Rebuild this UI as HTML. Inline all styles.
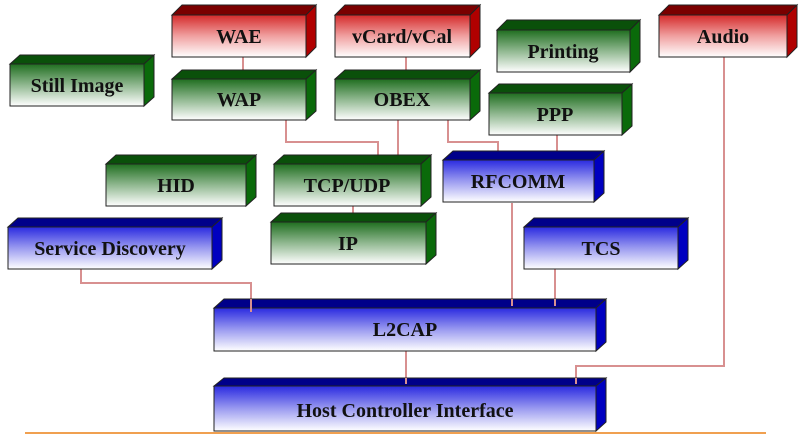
<!DOCTYPE html>
<html><head><meta charset="utf-8"><style>
html,body{margin:0;padding:0;background:#fff;}
svg{display:block;}
text{font-family:"Liberation Serif",serif;font-weight:bold;font-size:20px;fill:#111;text-anchor:middle;}
</style></head><body>
<svg width="800" height="435" viewBox="0 0 800 435" xmlns="http://www.w3.org/2000/svg">
<defs>
<linearGradient id="gr" x1="0" y1="0" x2="0" y2="1"><stop offset="0" stop-color="#d42a2a"/><stop offset="0.5" stop-color="#f0a0a0"/><stop offset="1" stop-color="#ffffff"/></linearGradient>
<linearGradient id="gg" x1="0" y1="0" x2="0" y2="1"><stop offset="0" stop-color="#1f6e1f"/><stop offset="0.5" stop-color="#90b890"/><stop offset="1" stop-color="#ffffff"/></linearGradient>
<linearGradient id="gb" x1="0" y1="0" x2="0" y2="1"><stop offset="0" stop-color="#2a2ae0"/><stop offset="0.5" stop-color="#9a9af0"/><stop offset="1" stop-color="#ffffff"/></linearGradient>
</defs>
<g stroke="#d89090" stroke-width="2" fill="none">
<polyline points="243,57 243,80"/>
<polyline points="406,57 406,80"/>
<polyline points="286,120 286,142 378,142 378,156"/>
<polyline points="398,120 398,156"/>
<polyline points="448,120 448,142 498,142 498,153"/>
<polyline points="557,135 557,153"/>
<polyline points="353,206 353,215"/>
<polyline points="512,203 512,302"/>
<polyline points="555,269 555,302"/>
<polyline points="81,269 81,283 251,283 251,312"/>
<polyline points="406,351 406,383"/>
<polyline points="724,57 724,366 576,366 576,383"/>
</g>
<line x1="25" y1="433" x2="766" y2="433" stroke="#f0a050" stroke-width="2"/>

<g stroke="#222" stroke-width="1">
<polygon points="172,15 182,5 316,5 306,15" fill="#7a0000"/><polygon points="306,15 316,5 316,47 306,57" fill="#b00000"/><rect x="172" y="15" width="134" height="42" fill="url(#gr)"/>
<polygon points="335,15 345,5 480,5 470,15" fill="#7a0000"/><polygon points="470,15 480,5 480,47 470,57" fill="#b00000"/><rect x="335" y="15" width="135" height="42" fill="url(#gr)"/>
<polygon points="659,15 669,5 797,5 787,15" fill="#7a0000"/><polygon points="787,15 797,5 797,47 787,57" fill="#b00000"/><rect x="659" y="15" width="128" height="42" fill="url(#gr)"/>
</g>
<g stroke="#222" stroke-width="1">
<polygon points="10,64 20,55 154,55 144,64" fill="#0a500a"/><polygon points="144,64 154,55 154,97 144,106" fill="#0a6a0a"/><rect x="10" y="64" width="134" height="42" fill="url(#gg)"/>
<polygon points="172,79 182,70 316,70 306,79" fill="#0a500a"/><polygon points="306,79 316,70 316,111 306,120" fill="#0a6a0a"/><rect x="172" y="79" width="134" height="41" fill="url(#gg)"/>
<polygon points="335,79 345,70 480,70 470,79" fill="#0a500a"/><polygon points="470,79 480,70 480,111 470,120" fill="#0a6a0a"/><rect x="335" y="79" width="135" height="41" fill="url(#gg)"/>
<polygon points="497,30 507,20 640,20 630,30" fill="#0a500a"/><polygon points="630,30 640,20 640,62 630,72" fill="#0a6a0a"/><rect x="497" y="30" width="133" height="42" fill="url(#gg)"/>
<polygon points="489,93 499,84 632,84 622,93" fill="#0a500a"/><polygon points="622,93 632,84 632,126 622,135" fill="#0a6a0a"/><rect x="489" y="93" width="133" height="42" fill="url(#gg)"/>
<polygon points="106,164 116,155 256,155 246,164" fill="#0a500a"/><polygon points="246,164 256,155 256,197 246,206" fill="#0a6a0a"/><rect x="106" y="164" width="140" height="42" fill="url(#gg)"/>
<polygon points="274,164 284,155 431,155 421,164" fill="#0a500a"/><polygon points="421,164 431,155 431,197 421,206" fill="#0a6a0a"/><rect x="274" y="164" width="147" height="42" fill="url(#gg)"/>
<polygon points="271,222 281,213 436,213 426,222" fill="#0a500a"/><polygon points="426,222 436,213 436,255 426,264" fill="#0a6a0a"/><rect x="271" y="222" width="155" height="42" fill="url(#gg)"/>
</g>
<g stroke="#222" stroke-width="1">
<polygon points="443,160 453,151 604,151 594,160" fill="#00008a"/><polygon points="594,160 604,151 604,193 594,202" fill="#0000c0"/><rect x="443" y="160" width="151" height="42" fill="url(#gb)"/>
<polygon points="8,227 18,218 222,218 212,227" fill="#00008a"/><polygon points="212,227 222,218 222,260 212,269" fill="#0000c0"/><rect x="8" y="227" width="204" height="42" fill="url(#gb)"/>
<polygon points="524,227 534,218 688,218 678,227" fill="#00008a"/><polygon points="678,227 688,218 688,260 678,269" fill="#0000c0"/><rect x="524" y="227" width="154" height="42" fill="url(#gb)"/>
<polygon points="214,308 224,299 606,299 596,308" fill="#00008a"/><polygon points="596,308 606,299 606,342 596,351" fill="#0000c0"/><rect x="214" y="308" width="382" height="43" fill="url(#gb)"/>
<polygon points="214,386 224,378 606,378 596,386" fill="#00008a"/><polygon points="596,386 606,378 606,422 596,431" fill="#0000c0"/><rect x="214" y="386" width="382" height="45" fill="url(#gb)"/>
</g>
<g stroke="#d89090" stroke-width="2">
<line x1="251" y1="299" x2="251" y2="312"/><line x1="512" y1="299" x2="512" y2="306"/><line x1="555" y1="299" x2="555" y2="306"/>
<line x1="576" y1="378" x2="576" y2="384"/><line x1="406" y1="378" x2="406" y2="384"/>
</g>
<text x="239" y="43">WAE</text>
<text x="402" y="43">vCard/vCal</text>
<text x="723" y="43">Audio</text>
<text x="77" y="92">Still Image</text>
<text x="239" y="106">WAP</text>
<text x="402" y="106">OBEX</text>
<text x="563" y="58">Printing</text>
<text x="555" y="121">PPP</text>
<text x="176" y="192">HID</text>
<text x="347" y="192">TCP/UDP</text>
<text x="348" y="250">IP</text>
<text x="518" y="188">RFCOMM</text>
<text x="110" y="255">Service Discovery</text>
<text x="601" y="255">TCS</text>
<text x="405" y="336">L2CAP</text>
<text x="405" y="417">Host Controller Interface</text>
</svg>
</body></html>
